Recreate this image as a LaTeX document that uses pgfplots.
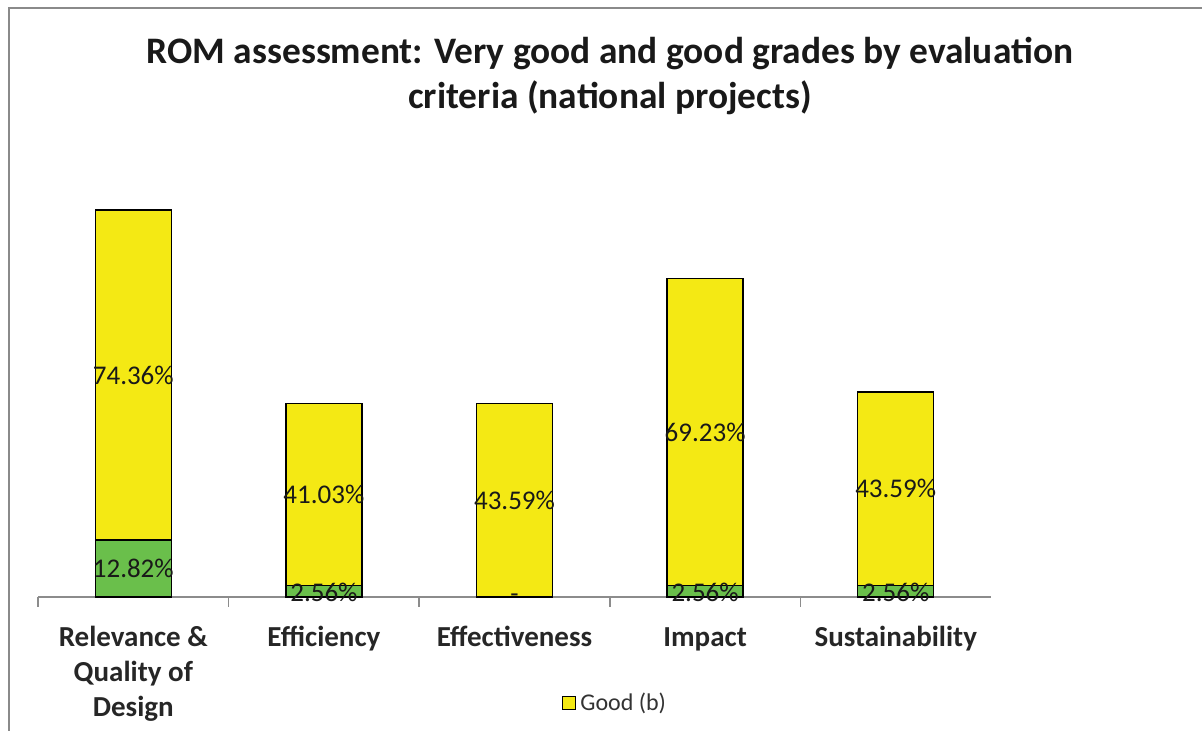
\documentclass[border=0pt]{standalone}
\usepackage{fontspec}
\setmainfont{Carlito}
\usepackage{pgfplots}
\usepackage{pgfplotstable}
\pgfplotsset{compat=1.18}

\definecolor{goodyellow}{HTML}{F4E914}
\definecolor{vgreen}{HTML}{6ABF4B}
\definecolor{axisgray}{HTML}{8C8C8C}
\definecolor{framegray}{HTML}{8A8A8A}

% very good (a) and good (b), in percent
\pgfplotstableread{
x vgood good
0 12.82 74.36
1 2.56  41.03
2 0     43.59
3 2.56  69.23
4 2.56  43.59
}\grades

\begin{document}
\begin{tikzpicture}
\useasboundingbox (-19pt,-67pt) rectangle (582pt,298.5pt);
\draw[framegray, line width=1pt] (-14.5pt,-67pt) -- (-14.5pt,294.5pt) -- (582pt,294.5pt);
\begin{axis}[
  x=95.3pt, y=2.22pt,
  xmin=-0.5, xmax=4.5, ymin=0, ymax=90,
  ybar stacked, bar width=38pt,
  axis y line=none, axis x line*=bottom,
  x axis line style={axisgray, line width=1pt},
  xtick={0,1,2,3,4},
  xticklabels={{Relevance \&\\Quality of\\Design},Efficiency,Effectiveness,Impact,Sustainability},
  typeset ticklabels with strut,
  major tick length=0pt,
  minor xtick={-0.5,0.5,1.5,2.5,3.5},
  minor tick length=5pt,
  minor tick style={axisgray, line width=0.8pt},
  tick align=outside,
  xticklabel style={font=\fontsize{14.5}{17.5}\selectfont\bfseries, align=center,
    text=black!85, anchor=north, yshift=-9pt},
  legend style={at={(0.6065,-0.265)}, anchor=center, draw=none,
    font=\fontsize{12}{14}\selectfont, text=black!80},
  legend image code/.code={\draw[#1] (0pt,-3.2pt) rectangle (6.5pt,3.2pt);},
  clip=false,
]
\addplot[fill=vgreen, draw=black, line width=0.7pt, forget plot] table[x=x, y=vgood] {\grades};
\addplot[fill=goodyellow, draw=black, line width=0.7pt] table[x=x, y=good] {\grades};
\addlegendentry{Good (b)}
\end{axis}
\begin{axis}[
  x=95.3pt, y=2.22pt,
  xmin=-0.5, xmax=4.5, ymin=0, ymax=90,
  hide axis, clip=false,
]
\addplot[draw=none, mark=none, nodes near coords, point meta=explicit symbolic,
  nodes near coords style={anchor=center, font=\fontsize{13.5}{15}\selectfont, text=black!90}]
  coordinates {
    (0,6.41) [12.82\%] (0,50.0) [74.36\%]
    (1,1.1) [2.56\%] (1,23.08) [41.03\%]
    (2,-0.3) [-] (2,21.8) [43.59\%]
    (3,1.1) [2.56\%] (3,37.18) [69.23\%]
    (4,1.1) [2.56\%] (4,24.36) [43.59\%]
  };
\end{axis}
\node[font=\fontsize{18.7}{22.5}\selectfont\bfseries, align=center, text=black!90]
  at (286pt,260.5pt) {ROM assessment: Very good and good grades by evaluation\\criteria (national projects)};
\end{tikzpicture}
\end{document}
